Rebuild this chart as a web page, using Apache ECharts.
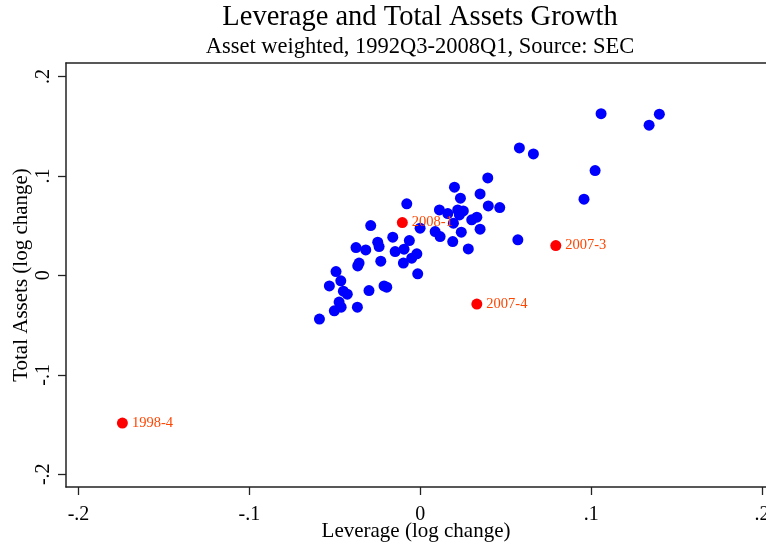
<!DOCTYPE html>
<html>
<head>
<meta charset="utf-8">
<script src="https://cdn.jsdelivr.net/npm/echarts@6/dist/echarts.min.js"></script>
<style>
  html, body { margin: 0; padding: 0; background: #fff; }
  #chart { width: 766px; height: 545px; }
</style>
</head>
<body>
<div id="chart"></div>
<script>
// quarterly observations, leverage vs total assets (log changes)
const blueLev = [
  -0.0590, -0.0503, -0.0463, -0.0475, -0.0368, -0.0532, -0.0450, -0.0427, -0.0300, -0.0212,
  -0.0196, -0.0465, -0.0493, -0.0366, -0.0358, -0.0231, -0.0099, -0.0015, -0.0376, -0.0319,
  -0.0147, -0.0095, -0.0020, -0.0050, -0.0249, -0.0241, -0.0161, -0.0064, -0.0290, -0.0001,
  -0.0079, 0.0087, 0.0116, 0.0194, 0.0240, 0.0190, 0.0281, 0.0112, 0.0161, 0.0219,
  0.0252, 0.0229, 0.0301, 0.0331, 0.0350, 0.0200, 0.0235, 0.0350, 0.0395, 0.0398,
  0.0465, 0.0571, 0.0580, 0.0662, 0.0958, 0.1023, 0.1058, 0.1339, 0.1399
]
const blueAssets = [
  -0.0440, -0.0357, -0.0320, -0.0269, -0.0320, -0.0106, -0.0159, -0.0189, -0.0153, -0.0106,
  -0.0119, -0.0055, 0.0038, 0.0095, 0.0123, 0.0143, 0.0123, 0.0015, 0.0279, 0.0256,
  0.0239, 0.0263, 0.0216, 0.0173, 0.0334, 0.0289, 0.0384, 0.0350, 0.0500, 0.0474,
  0.0719, 0.0440, 0.0390, 0.0525, 0.0434, 0.0340, 0.0266, 0.0658, 0.0621, 0.0658,
  0.0648, 0.0608, 0.0558, 0.0585, 0.0464, 0.0886, 0.0776, 0.0819, 0.0980, 0.0698,
  0.0681, 0.0357, 0.1281, 0.1221, 0.0766, 0.1053, 0.1626, 0.1510, 0.1620
]
// highlighted quarters
const redNames = ['1998-4', '2008-1', '2007-3', '2007-4']
const redLev = [-0.1743, -0.0105, 0.0793, 0.0331]
const redAssets = [-0.1485, 0.0531, 0.0299, -0.0289]

const xTicks = [-0.2, -0.1, 0, 0.1, 0.2]
const yTicks = [-0.2, -0.1, 0, 0.1, 0.2]

const serif = '"Liberation Serif", "Times New Roman", serif'

// stata style tick labels: .1, -.2, 0
const fmt = v => {
  const r = Math.round(v * 10) / 10
  if (r === 0) return '0'
  return (r < 0 ? '-' : '') + String(Math.abs(r)).replace(/^0/, '')
}

const chart = echarts.init(document.getElementById('chart'))

const axisCommon = {
  type: 'value',
  splitLine: { show: false },
  axisLine: { show: true, onZero: false, lineStyle: { color: '#222', width: 1.5 } },
  axisTick: { show: true, length: 8, lineStyle: { color: '#222', width: 1.3 } },
  nameLocation: 'middle',
  nameMoveOverlap: false,
  nameTextStyle: { fontFamily: serif, fontSize: 21, color: '#000' }
}

chart.setOption({
  backgroundColor: '#fff',
  animation: false,
  graphic: [
    {
      type: 'text', x: 420, y: 3,
      style: { text: 'Leverage and Total Assets Growth', font: '28.5px ' + serif, fill: '#000', textAlign: 'center' }
    },
    {
      type: 'text', x: 420, y: 36,
      style: { text: 'Asset weighted, 1992Q3-2008Q1, Source: SEC', font: '22.5px ' + serif, fill: '#000', textAlign: 'center' }
    }
  ],
  grid: { left: 66, right: 0, top: 63, bottom: 58, containLabel: false, outerBoundsMode: 'none' },
  xAxis: [
    {
      ...axisCommon,
      min: -0.2073, max: 0.2023,
      name: 'Leverage (log change)',
      nameGap: 34,
      axisTick: { ...axisCommon.axisTick, customValues: xTicks },
      axisLabel: { customValues: xTicks, formatter: fmt, fontFamily: serif, fontSize: 20, color: '#000', margin: 18 }
    },
    {
      type: 'value', position: 'top',
      min: -0.2073, max: 0.2023,
      axisLine: { show: true, onZero: false, lineStyle: { color: '#222', width: 1.5 } },
      axisTick: { show: false }, axisLabel: { show: false }, splitLine: { show: false }
    }
  ],
  yAxis: {
    ...axisCommon,
    min: -0.2128, max: 0.2135,
    name: 'Total Assets (log change)',
    nameGap: 34,
    axisTick: { ...axisCommon.axisTick, customValues: yTicks },
    axisLabel: { customValues: yTicks, formatter: fmt, rotate: 90, fontFamily: serif, fontSize: 20, color: '#000', margin: 12 }
  },
  series: [
    {
      type: 'scatter',
      z: 2,
      symbolSize: 11,
      itemStyle: { color: '#0000ff', opacity: 1 },
      data: blueLev.map((x, i) => [x, blueAssets[i]])
    },
    {
      type: 'scatter',
      z: 5,
      symbolSize: 11,
      itemStyle: { color: '#ff0000', opacity: 1 },
      label: {
        show: true, position: 'right', distance: 4,
        formatter: p => p.data[2],
        fontFamily: serif, fontSize: 14.5, color: '#ff4500'
      },
      labelLayout: { hideOverlap: false },
      data: redLev.map((x, i) => [x, redAssets[i], redNames[i]])
    }
  ]
})
</script>
</body>
</html>
